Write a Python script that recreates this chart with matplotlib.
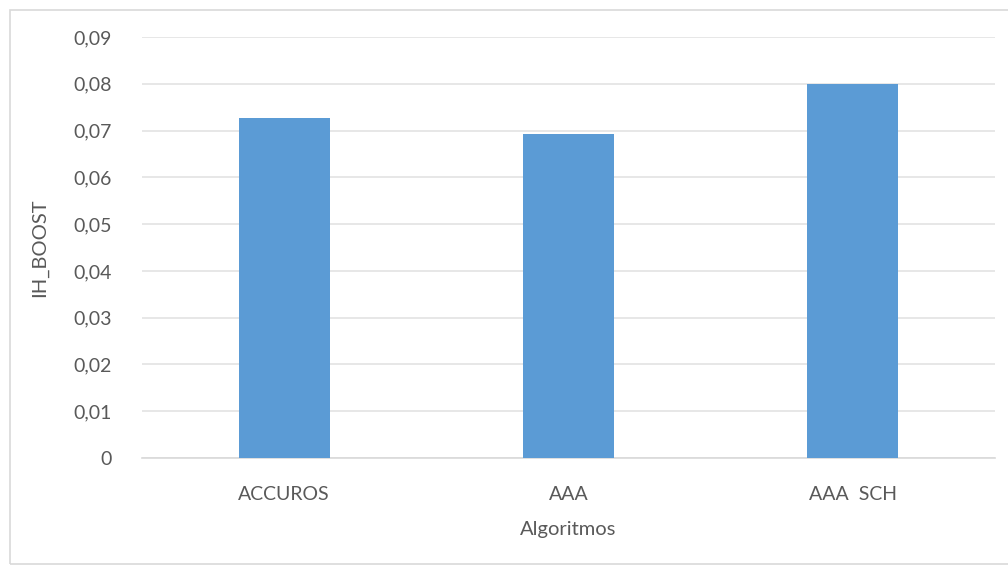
import matplotlib.pyplot as plt
from matplotlib.patches import Rectangle
from matplotlib.ticker import FuncFormatter

# values
algoritmos = ["ACCUROS", "AAA", "AAA  SCH"]
ih_boost = [0.0727, 0.0692, 0.0800]
y_ticks = [0, 0.01, 0.02, 0.03, 0.04, 0.05, 0.06, 0.07, 0.08, 0.09]

plt.rcParams['font.family'] = ['Lato', 'DejaVu Sans']
text_color = '#595959'
bar_color = '#5b9bd5'

fig = plt.figure(figsize=(10.08, 5.67), dpi=100)
ax = fig.add_axes([0.1409, 0.1922, 0.8462, 0.7425])

# light outer frame like the Excel chart area
fig.patches.append(Rectangle((10 / 1008, 3 / 567), 1005 / 1008, 554 / 567,
                             transform=fig.transFigure, fill=False,
                             edgecolor='#d9d9d9', linewidth=1.2))

x = range(len(algoritmos))
ax.bar(x, ih_boost, width=0.32, color=bar_color, zorder=3)

ax.set_xlim(-0.5, len(algoritmos) - 0.5)
ax.set_ylim(0, 0.09)
ax.set_yticks(y_ticks)
ax.yaxis.set_major_formatter(FuncFormatter(lambda v, p: "0" if v == 0 else f"{v:.2f}".replace(".", ",")))
ax.set_xticks(list(x))
ax.set_xticklabels(algoritmos)

ax.grid(axis='y', color='#e3e3e3', linewidth=1.2, zorder=0)
for s in ['top', 'right', 'left']:
    ax.spines[s].set_visible(False)
ax.spines['bottom'].set_color('#d9d9d9')
ax.spines['bottom'].set_linewidth(1.2)
ax.tick_params(axis='both', length=0, labelsize=14, colors=text_color)
ax.tick_params(axis='y', pad=22)
ax.tick_params(axis='x', pad=20)

ax.set_xlabel("Algoritmos", fontsize=14.5, color=text_color)
ax.set_ylabel("IH_BOOST", fontsize=14.5, color=text_color)
ax.xaxis.set_label_coords(0.5, -0.150)
ax.yaxis.set_label_coords(-0.110, 0.5)

plt.savefig("out.png", dpi=100)
plt.close()
